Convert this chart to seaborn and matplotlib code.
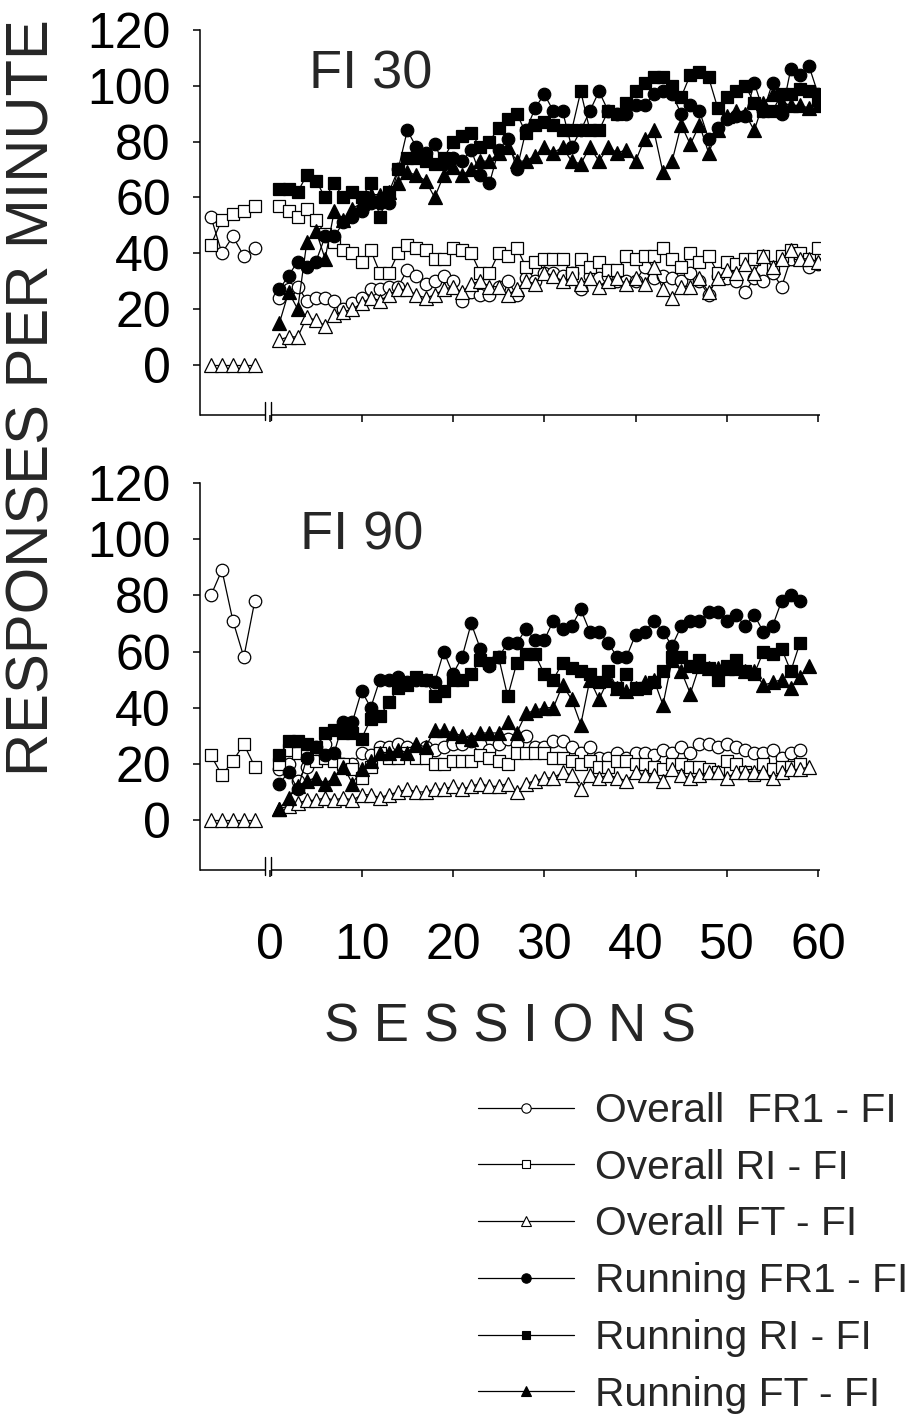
import matplotlib
matplotlib.use("Agg")
import matplotlib.pyplot as plt
import matplotlib.transforms as mtransforms
from matplotlib.lines import Line2D
import seaborn as sns

sns.set_style("ticks")
plt.rcParams["font.family"] = ["Liberation Sans", "DejaVu Sans"]

# ---------------------------------------------------------------- data
# pre-training (baseline) sessions, drawn left of the axis break
BASELINE_X = [-6.5, -5.3, -4.1, -2.9, -1.7]

SERIES_LABELS = [
    "Overall  FR1 - FI",
    "Overall RI - FI",
    "Overall FT - FI",
    "Running FR1 - FI",
    "Running RI - FI",
    "Running FT - FI",
]
SERIES_MARKERS = ["o", "s", "^", "o", "s", "^"]
SERIES_FILLED = [False, False, False, True, True, True]

# FI 30 panel
FI30_BASE_OV_FR1 = [53, 40, 46, 39, 42]
FI30_BASE_OV_RI = [43, 52, 54, 55, 57]
FI30_BASE_OV_FT = [0, 0, 0, 0, 0]

FI30_OV_FR1 = [24, 27, 28, 23, 24, 24, 23, 20, 22, 24,
               27, 27, 28, 28, 34, 32, 29, 30, 32, 30,
               23, 26, 25, 25, 28, 30, 25, 31, 30, 33,
               33, 32, 33, 27, 32, 31, 32, 30, 30, 30,
               35, 31, 32, 31, 30, 33, 30, 25, 32, 31,
               30, 26, 31, 30, 33, 28, 38, 38, 35, 36]
FI30_OV_RI = [57, 55, 53, 56, 52, 47, 44, 41, 40, 37,
              41, 33, 33, 40, 43, 42, 41, 38, 38, 42,
              41, 40, 33, 33, 40, 39, 42, 35, 37, 38,
              38, 38, 33, 38, 35, 37, 34, 34, 39, 38,
              39, 39, 42, 38, 35, 40, 37, 39, 33, 37,
              36, 38, 38, 39, 35, 39, 41, 40, 38, 42]
FI30_OV_FT = [9, 10, 10, 17, 16, 14, 18, 19, 20, 22,
              24, 23, 25, 27, 27, 25, 24, 25, 27, 28,
              26, 29, 30, 28, 28, 25, 27, 30, 29, 33,
              32, 30, 31, 29, 31, 28, 30, 31, 29, 31,
              29, 35, 27, 24, 28, 28, 31, 26, 31, 34,
              33, 36, 33, 39, 35, 38, 41, 38, 38, 37]
FI30_RUN_FR1 = [27, 32, 37, 35, 37, 46, 46, 51, 53, 55,
                58, 58, 58, 70, 84, 78, 76, 79, 72, 74,
                73, 77, 68, 65, 77, 81, 70, 84, 92, 97,
                91, 91, 78, 84, 91, 98, 91, 90, 90, 93,
                93, 97, 98, 97, 90, 93, 91, 81, 85, 88,
                89, 89, 101, 91, 101, 90, 106, 104, 107, 97]
FI30_RUN_RI = [63, 63, 62, 68, 66, 60, 65, 60, 62, 60,
               65, 53, 62, 70, 74, 74, 73, 72, 74, 80,
               82, 83, 78, 80, 85, 88, 90, 83, 86, 87,
               86, 84, 84, 98, 84, 84, 91, 90, 94, 98,
               101, 103, 103, 100, 96, 104, 105, 103, 92, 96,
               98, 100, 94, 91, 91, 97, 97, 99, 98, 95]
FI30_RUN_FT = [15, 26, 20, 44, 48, 38, 55, 52, 56, 58,
               61, 61, 62, 65, 69, 68, 66, 60, 68, 71,
               68, 70, 73, 73, 76, 78, 73, 73, 75, 78,
               76, 78, 73, 72, 78, 73, 78, 76, 77, 73,
               81, 84, 69, 73, 86, 79, 86, 76, 84, 89,
               91, 90, 84, 94, 97, 94, 93, 93, 92, 93]

# FI 90 panel
FI90_BASE_OV_FR1 = [80, 89, 71, 58, 78]
FI90_BASE_OV_RI = [23, 16, 21, 27, 19]
FI90_BASE_OV_FT = [0, 0, 0, 0, 0]

FI90_OV_FR1 = [18, 20, 14, 19, 22, 27, 22, 20, 20, 24,
               23, 26, 26, 27, 26, 25, 26, 25, 26, 27,
               27, 28, 27, 25, 27, 29, 27, 30, 26, 26,
               28, 28, 26, 24, 26, 22, 22, 24, 22, 24,
               24, 23, 25, 24, 26, 24, 27, 27, 26, 27,
               26, 25, 24, 24, 25, 22, 24, 25]
FI90_OV_RI = [20, 25, 24, 23, 21, 22, 21, 20, 18, 15,
              19, 24, 22, 22, 24, 22, 22, 20, 20, 21,
              21, 21, 23, 22, 21, 20, 24, 24, 24, 24,
              22, 22, 21, 20, 21, 19, 19, 21, 21, 20,
              20, 19, 18, 20, 20, 19, 19, 18, 17, 21,
              20, 17, 16, 20, 18, 19, 19, 20]
FI90_OV_FT = [4, 5, 6, 7, 7, 8, 7, 8, 7, 9,
              9, 8, 9, 10, 11, 10, 10, 11, 11, 12,
              11, 12, 13, 12, 12, 13, 10, 13, 14, 15,
              15, 17, 16, 11, 16, 15, 16, 15, 14, 17,
              16, 16, 14, 18, 16, 15, 16, 17, 17, 15,
              17, 17, 17, 17, 15, 17, 18, 18, 19]
FI90_RUN_FR1 = [13, 17, 11, 22, 26, 23, 24, 35, 35, 46,
                40, 50, 50, 51, 49, 50, 50, 49, 60, 52,
                58, 70, 61, 55, 58, 63, 63, 68, 64, 64,
                71, 68, 69, 75, 67, 67, 63, 58, 58, 66,
                67, 71, 67, 62, 69, 71, 71, 74, 74, 71,
                73, 69, 73, 67, 69, 78, 80, 78]
FI90_RUN_RI = [23, 28, 28, 27, 26, 31, 32, 31, 31, 29,
               36, 37, 42, 47, 48, 51, 50, 44, 46, 50,
               50, 52, 57, 56, 58, 44, 56, 59, 59, 52,
               50, 56, 54, 53, 52, 49, 53, 47, 52, 47,
               47, 49, 53, 58, 58, 55, 57, 54, 50, 55,
               57, 53, 52, 60, 59, 61, 53, 63]
FI90_RUN_FT = [4, 8, 12, 14, 15, 13, 15, 19, 13, 18,
               21, 24, 24, 25, 24, 27, 26, 32, 32, 31,
               30, 29, 31, 31, 31, 35, 31, 38, 39, 40,
               40, 48, 43, 34, 50, 43, 50, 47, 46, 47,
               49, 50, 41, 57, 53, 45, 55, 54, 54, 54,
               54, 53, 53, 48, 49, 50, 47, 51, 55]

PANELS = [
    {
        "title": "FI 30",
        "baseline": [FI30_BASE_OV_FR1, FI30_BASE_OV_RI, FI30_BASE_OV_FT],
        "series": [FI30_OV_FR1, FI30_OV_RI, FI30_OV_FT,
                   FI30_RUN_FR1, FI30_RUN_RI, FI30_RUN_FT],
    },
    {
        "title": "FI 90",
        "baseline": [FI90_BASE_OV_FR1, FI90_BASE_OV_RI, FI90_BASE_OV_FT],
        "series": [FI90_OV_FR1, FI90_OV_RI, FI90_OV_FT,
                   FI90_RUN_FR1, FI90_RUN_RI, FI90_RUN_FT],
    },
]

Y_TICKS = [0, 20, 40, 60, 80, 100, 120]
X_TICKS = [0, 10, 20, 30, 40, 50, 60]
X_LIM = (-7.7, 60.2)
BREAK_AT = (-0.58, 0.08)

MARKER_SIZE = {"o": 9.0, "s": 8.0, "^": 9.5}
LINE_W = 0.9

# ---------------------------------------------------------------- figure
fig = plt.figure(figsize=(9.1, 14.2), dpi=100)
W, H = 910.0, 1420.0
axes_boxes = [
    [200 / W, 1 - 415 / H, 620 / W, 385 / H],
    [200 / W, 1 - 870 / H, 620 / W, 387 / H],
]
title_pos = [(0.275, 0.849), (0.260, 0.827)]
y_low = [-18.0, -17.8]


def draw_series(ax, x, y, marker, filled):
    sns.lineplot(
        x=x, y=y, ax=ax, color="black", linewidth=LINE_W,
        marker=marker, markersize=MARKER_SIZE[marker],
        markerfacecolor="black" if filled else "white",
        markeredgecolor="black", markeredgewidth=0.9,
        estimator=None, sort=False, legend=False,
    )


for i, panel in enumerate(PANELS):
    ax = fig.add_axes(axes_boxes[i])

    # pre-training points (overall rates only)
    for k, vals in enumerate(panel["baseline"]):
        draw_series(ax, BASELINE_X, vals, SERIES_MARKERS[k], SERIES_FILLED[k])

    # training sessions
    for k, vals in enumerate(panel["series"]):
        xs = list(range(1, len(vals) + 1))
        draw_series(ax, xs, vals, SERIES_MARKERS[k], SERIES_FILLED[k])

    ax.set_xlim(*X_LIM)
    ax.set_ylim(y_low[i], 120)
    ax.set_xlabel("")
    ax.set_ylabel("")
    ax.set_yticks(Y_TICKS)
    ax.set_xticks(X_TICKS)
    if i == 0:
        ax.set_xticklabels([])
    for side in ("top", "right", "bottom"):
        ax.spines[side].set_visible(False)
    ax.spines["left"].set_linewidth(1.1)
    ax.spines["left"].set_color("black")
    ax.tick_params(axis="both", direction="out", length=5, width=1.1,
                   colors="black", labelsize=36)
    ax.tick_params(axis="y", pad=16)
    ax.tick_params(axis="x", pad=33)

    # broken x axis
    trans = mtransforms.blended_transform_factory(ax.transData, ax.transAxes)
    ax.plot([X_LIM[0], BREAK_AT[0]], [0, 0], transform=trans,
            color="black", lw=1.1, clip_on=False, solid_capstyle="butt")
    ax.plot([BREAK_AT[1], X_LIM[1]], [0, 0], transform=trans,
            color="black", lw=1.1, clip_on=False, solid_capstyle="butt")
    for bx in BREAK_AT:
        ax.plot([bx, bx], [-0.013, 0.034], transform=trans,
                color="black", lw=1.0, clip_on=False)

    ax.text(title_pos[i][0], title_pos[i][1], panel["title"],
            transform=ax.transAxes, ha="center", va="baseline", fontsize=39)

fig.text(33 / W, 1 - 398 / H, "RESPONSES PER MINUTE", rotation=90,
         ha="center", va="center", fontsize=43)
fig.text(510 / W, 1 - 1028 / H, "S E S S I O N S",
         ha="center", va="center", fontsize=38)

handles = [
    Line2D([0], [0], color="black", lw=LINE_W, marker=m,
           markersize=MARKER_SIZE[m] * 0.75,
           markerfacecolor="black" if f else "white",
           markeredgecolor="black", markeredgewidth=0.8)
    for m, f in zip(SERIES_MARKERS, SERIES_FILLED)
]
fig.legend(handles, SERIES_LABELS, loc="upper left",
           bbox_to_anchor=(478 / W, 1 - 1092 / H), frameon=False,
           fontsize=29.3, handlelength=2.35, handletextpad=0.53,
           labelspacing=0.46, borderpad=0, borderaxespad=0, numpoints=1)

fig.savefig("out.png", dpi=100)
